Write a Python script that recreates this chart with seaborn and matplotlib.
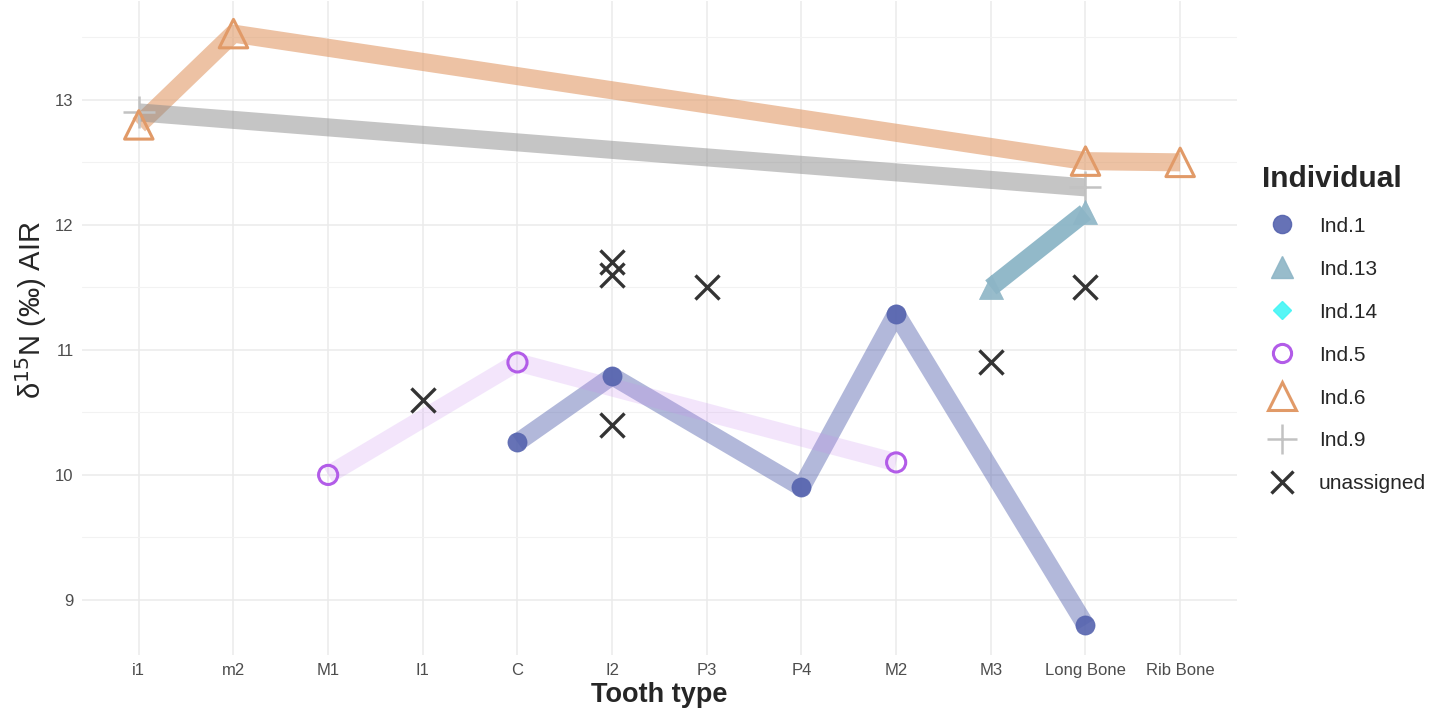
import numpy as np
import pandas as pd
import matplotlib
matplotlib.use("Agg")
import matplotlib.pyplot as plt
from matplotlib.lines import Line2D
from matplotlib.ticker import MultipleLocator
import seaborn as sns

# Sample order along the x axis
tooth_types = ["i1", "m2", "M1", "I1", "C", "I2", "P3", "P4", "M2", "M3",
               "Long Bone", "Rib Bone"]

# Nitrogen isotope values per individual
ind1_types = ["C", "I2", "P4", "M2", "Long Bone"]
ind1_d15n = [10.26, 10.79, 9.90, 11.29, 8.80]

ind13_types = ["M3", "Long Bone"]
ind13_d15n = [11.50, 12.10]

ind5_types = ["M1", "C", "M2"]
ind5_d15n = [10.00, 10.90, 10.10]

ind6_types = ["i1", "m2", "Long Bone", "Rib Bone"]
ind6_d15n = [12.80, 13.53, 12.51, 12.50]

ind9_types = ["i1", "Long Bone"]
ind9_d15n = [12.90, 12.30]

unassigned_types = ["I1", "I2", "I2", "I2", "P3", "M3", "Long Bone"]
unassigned_d15n = [10.60, 11.70, 11.60, 10.40, 11.50, 10.90, 11.50]

legend_order = ["Ind.1", "Ind.13", "Ind.14", "Ind.5", "Ind.6", "Ind.9", "unassigned"]

frames = []
for name, t, v in [("Ind.1", ind1_types, ind1_d15n),
                   ("Ind.13", ind13_types, ind13_d15n),
                   ("Ind.5", ind5_types, ind5_d15n),
                   ("Ind.6", ind6_types, ind6_d15n),
                   ("Ind.9", ind9_types, ind9_d15n),
                   ("unassigned", unassigned_types, unassigned_d15n)]:
    frames.append(pd.DataFrame({"Individual": name, "tooth": t, "d15N": v}))
df = pd.concat(frames, ignore_index=True)
df["tooth"] = pd.Categorical(df["tooth"], categories=tooth_types, ordered=True)
df["xpos"] = df["tooth"].cat.codes
df = df.sort_values(["Individual", "xpos"])

styles = {
    "Ind.1":      dict(color="#5563ae", marker="o", filled=True, s=190, lw=2.0),
    "Ind.13":     dict(color="#8db5c6", marker="^", filled=True, s=300, lw=2.0),
    "Ind.14":     dict(color="#44f5f5", marker="D", filled=True, s=90, lw=2.0),
    "Ind.5":      dict(color="#b25ce8", marker="o", filled=False, s=190, lw=2.2),
    "Ind.6":      dict(color="#e19a68", marker="^", filled=False, s=420, lw=2.2),
    "Ind.9":      dict(color="#c2c2c2", marker="+", filled=True, s=520, lw=1.8),
    "unassigned": dict(color="#333333", marker="x", filled=True, s=300, lw=2.4),
}

# (colour, alpha) of the connecting line for each individual
line_styles = {
    "Ind.1": ("#5563ae", 0.45),
    "Ind.5": ("#c98df0", 0.22),
    "Ind.6": ("#e19a68", 0.6),
    "Ind.9": ("#8c8c8c", 0.5),
    "Ind.13": ("#86b2c4", 0.9),
}

sns.set_theme(style="whitegrid")
plt.rcParams["font.family"] = ["Liberation Sans", "DejaVu Sans"]

fig = plt.figure(figsize=(14.31, 7.10), dpi=100)
ax = fig.add_axes([0.0573, 0.078, 0.8071, 0.920])

for name in ["Ind.1", "Ind.5", "Ind.6", "Ind.9", "Ind.13"]:
    sub = df[df["Individual"] == name]
    col, alpha = line_styles[name]
    sns.lineplot(data=sub, x="xpos", y="d15N", ax=ax, color=col,
                 linewidth=13, alpha=alpha, sort=True,
                 estimator=None, solid_capstyle="butt", zorder=2)

# point markers
for name in ["Ind.9", "Ind.6", "Ind.5", "Ind.13", "Ind.1", "unassigned"]:
    st = styles[name]
    sub = df[df["Individual"] == name]
    if st["marker"] in ("x", "+"):
        sns.scatterplot(data=sub, x="xpos", y="d15N", ax=ax, marker=st["marker"],
                        color=st["color"], s=st["s"], linewidth=st["lw"],
                        zorder=4, legend=False)
    elif st["filled"]:
        sns.scatterplot(data=sub, x="xpos", y="d15N", ax=ax, marker=st["marker"],
                        color=st["color"], s=st["s"], edgecolor=st["color"],
                        linewidth=0.5, alpha=0.9, zorder=4, legend=False)
    else:
        sns.scatterplot(data=sub, x="xpos", y="d15N", ax=ax, marker=st["marker"],
                        facecolor="none", edgecolor=st["color"], s=st["s"],
                        linewidth=st["lw"], zorder=4, legend=False)

# axes and grid
ax.set_xlim(-0.6, len(tooth_types) - 1 + 0.6)
ax.set_ylim(8.5625, 13.7875)
ax.set_xticks(range(len(tooth_types)))
ax.set_xticklabels(tooth_types)
ax.yaxis.set_major_locator(MultipleLocator(1))
ax.yaxis.set_minor_locator(MultipleLocator(0.5))
ax.set_facecolor("white")
for sp in ax.spines.values():
    sp.set_visible(False)
ax.grid(which="major", color="#ebebeb", linewidth=1.1)
ax.grid(which="minor", axis="y", color="#f2f2f2", linewidth=0.8)
ax.grid(which="minor", axis="x", visible=False)
ax.tick_params(axis="both", which="both", length=0, labelsize=12,
               labelcolor="#4d4d4d", pad=6)
ax.set_axisbelow(True)

ax.set_xlabel("Tooth type", fontsize=19.5, fontweight="bold", labelpad=3)
ax.set_ylabel("δ$^{15}$N (‰) AIR", fontsize=21)
ax.yaxis.set_label_coords(-0.029, 0.528)

# legend
handles = []
for name in legend_order:
    st = styles[name]
    ms = np.sqrt(st["s"]) * 0.95
    if st["marker"] in ("x", "+"):
        h = Line2D([], [], linestyle="none", marker=st["marker"], color=st["color"],
                   markersize=ms, markeredgewidth=st["lw"])
    elif st["filled"]:
        h = Line2D([], [], linestyle="none", marker=st["marker"],
                   markerfacecolor=st["color"], markeredgecolor=st["color"],
                   markersize=ms, alpha=0.9)
    else:
        h = Line2D([], [], linestyle="none", marker=st["marker"],
                   markerfacecolor="none", markeredgecolor=st["color"],
                   markersize=ms, markeredgewidth=st["lw"])
    handles.append(h)

leg = fig.legend(handles, legend_order, title="Individual", loc="upper left",
                 bbox_to_anchor=(1262 / 1431, 0.768), frameon=False, fontsize=15,
                 title_fontproperties={"weight": "bold", "size": 21.5},
                 labelspacing=1.15, handlelength=1.9, handletextpad=0.83,
                 borderpad=0, borderaxespad=0)
leg._legend_box.align = "left"

fig.savefig("out.png", dpi=100)
